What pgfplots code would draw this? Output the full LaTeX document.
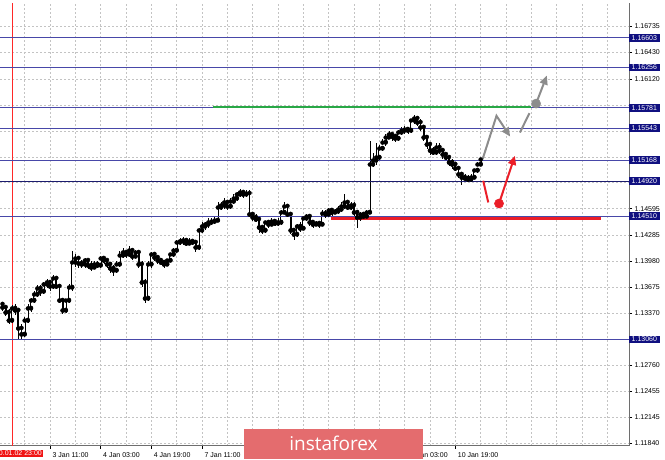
\documentclass[border=0pt]{standalone}
\usepackage{fontspec}
\setmainfont{Liberation Sans}
\newfontfamily\logofont{Open Sans}
\usepackage{pgfplots}
\pgfplotsset{compat=1.18}
\usepackage{pgfplotstable}
\usetikzlibrary{arrows.meta}

\definecolor{lvl}{RGB}{72,72,168}
\definecolor{lvldark}{RGB}{28,28,110}
\definecolor{lblbg}{RGB}{16,16,128}
\definecolor{gridgray}{RGB}{195,195,195}
\definecolor{axisgray}{RGB}{110,110,110}
\definecolor{lvlgreen}{RGB}{40,168,70}
\definecolor{lvlred}{RGB}{235,30,40}
\definecolor{arrgray}{RGB}{140,140,140}
\definecolor{logored}{RGB}{228,108,110}

% hourly candles, x = hours after 2 Jan 23:00
\pgfplotstableread{
x o h l c
-3 1.13470 1.13504 1.13399 1.13434
-2 1.13434 1.13458 1.13340 1.13375
-1 1.13375 1.13411 1.13235 1.13281
0 1.13281 1.13458 1.13258 1.13423
1 1.13423 1.13470 1.13352 1.13399
2 1.13399 1.13434 1.13059 1.13188
3 1.13188 1.13235 1.13059 1.13118
4 1.13118 1.13328 1.13082 1.13281
5 1.13281 1.13470 1.13258 1.13423
6 1.13423 1.13551 1.13387 1.13516
7 1.13516 1.13634 1.13493 1.13587
8 1.13587 1.13693 1.13563 1.13658
9 1.13658 1.13693 1.13575 1.13622
10 1.13622 1.13739 1.13598 1.13705
11 1.13705 1.13775 1.13669 1.13728
12 1.13728 1.13751 1.13634 1.13681
13 1.13681 1.13822 1.13646 1.13775
14 1.13775 1.13798 1.13646 1.13681
15 1.13681 1.13705 1.13493 1.13516
16 1.13516 1.13551 1.13363 1.13399
17 1.13399 1.13540 1.13375 1.13516
18 1.13516 1.13705 1.13493 1.13669
19 1.13669 1.14103 1.13634 1.13963
20 1.13963 1.14057 1.13916 1.14010
21 1.14010 1.14045 1.13904 1.13951
22 1.13951 1.13998 1.13893 1.13940
23 1.13940 1.14021 1.13904 1.13986
24 1.13986 1.14010 1.13881 1.13928
25 1.13928 1.13975 1.13869 1.13904
26 1.13904 1.13975 1.13881 1.13940
27 1.13940 1.13986 1.13893 1.13928
28 1.13928 1.14045 1.13904 1.14010
29 1.14010 1.14033 1.13940 1.13986
30 1.13986 1.14010 1.13893 1.13940
31 1.13940 1.13963 1.13845 1.13893
32 1.13893 1.13928 1.13810 1.13869
33 1.13869 1.13975 1.13845 1.13940
34 1.13940 1.14103 1.13916 1.14045
35 1.14045 1.14139 1.14010 1.14080
36 1.14080 1.14115 1.14010 1.14057
37 1.14057 1.14151 1.14033 1.14103
38 1.14103 1.14127 1.13998 1.14033
39 1.14033 1.14115 1.14021 1.14080
40 1.14080 1.14103 1.13893 1.13940
41 1.13940 1.13975 1.13681 1.13728
42 1.13728 1.13775 1.13493 1.13540
43 1.13540 1.13986 1.13516 1.13940
44 1.13940 1.14092 1.13904 1.14057
45 1.14057 1.14080 1.13986 1.14021
46 1.14021 1.14045 1.13940 1.13986
47 1.13986 1.14021 1.13928 1.13963
48 1.13963 1.13998 1.13904 1.13940
49 1.13940 1.14010 1.13916 1.13986
50 1.13986 1.14080 1.13963 1.14057
51 1.14057 1.14139 1.14033 1.14103
52 1.14103 1.14233 1.14080 1.14198
53 1.14198 1.14245 1.14163 1.14210
54 1.14210 1.14257 1.14174 1.14221
55 1.14221 1.14245 1.14151 1.14186
56 1.14186 1.14245 1.14163 1.14210
57 1.14210 1.14233 1.14163 1.14198
58 1.14198 1.14233 1.14092 1.14139
59 1.14139 1.14374 1.14115 1.14339
60 1.14339 1.14433 1.14315 1.14386
61 1.14386 1.14444 1.14350 1.14409
62 1.14409 1.14480 1.14374 1.14433
63 1.14433 1.14491 1.14409 1.14444
64 1.14444 1.14503 1.14421 1.14456
65 1.14456 1.14668 1.14433 1.14609
66 1.14609 1.14679 1.14574 1.14632
67 1.14632 1.14715 1.14597 1.14668
68 1.14668 1.14691 1.14585 1.14621
69 1.14621 1.14715 1.14597 1.14679
70 1.14679 1.14762 1.14656 1.14715
71 1.14715 1.14797 1.14691 1.14762
72 1.14762 1.14832 1.14738 1.14785
73 1.14785 1.14809 1.14726 1.14762
74 1.14762 1.14809 1.14738 1.14773
75 1.14773 1.14820 1.14503 1.14527
76 1.14527 1.14562 1.14456 1.14491
77 1.14491 1.14527 1.14433 1.14468
78 1.14468 1.14503 1.14315 1.14374
79 1.14374 1.14409 1.14292 1.14339
80 1.14339 1.14456 1.14315 1.14433
81 1.14433 1.14468 1.14374 1.14409
82 1.14409 1.14480 1.14386 1.14444
83 1.14444 1.14468 1.14386 1.14421
84 1.14421 1.14480 1.14397 1.14433
85 1.14433 1.14585 1.14409 1.14550
86 1.14550 1.14668 1.14527 1.14621
87 1.14621 1.14644 1.14503 1.14527
88 1.14527 1.14550 1.14292 1.14339
89 1.14339 1.14374 1.14233 1.14292
90 1.14292 1.14421 1.14268 1.14386
91 1.14386 1.14433 1.14327 1.14362
92 1.14362 1.14515 1.14339 1.14480
93 1.14480 1.14538 1.14456 1.14503
94 1.14503 1.14527 1.14397 1.14433
95 1.14433 1.14468 1.14374 1.14409
96 1.14409 1.14456 1.14386 1.14421
97 1.14421 1.14456 1.14374 1.14409
98 1.14409 1.14574 1.14386 1.14538
99 1.14538 1.14574 1.14491 1.14527
100 1.14527 1.14609 1.14503 1.14574
101 1.14574 1.14609 1.14515 1.14550
102 1.14550 1.14597 1.14527 1.14562
103 1.14562 1.14632 1.14538 1.14585
104 1.14585 1.14668 1.14562 1.14621
105 1.14621 1.14762 1.14597 1.14668
106 1.14668 1.14703 1.14574 1.14609
107 1.14609 1.14679 1.14585 1.14632
108 1.14632 1.14668 1.14515 1.14550
109 1.14550 1.14574 1.14374 1.14491
110 1.14491 1.14562 1.14456 1.14527
111 1.14527 1.14562 1.14468 1.14503
112 1.14503 1.14585 1.14480 1.14550
113 1.14550 1.15396 1.14527 1.15114
114 1.15114 1.15255 1.15079 1.15161
115 1.15161 1.15372 1.15114 1.15196
116 1.15196 1.15349 1.15161 1.15302
117 1.15302 1.15419 1.15278 1.15372
118 1.15372 1.15478 1.15337 1.15431
119 1.15431 1.15513 1.15408 1.15466
120 1.15466 1.15490 1.15396 1.15443
121 1.15443 1.15478 1.15384 1.15419
122 1.15419 1.15525 1.15396 1.15490
123 1.15490 1.15549 1.15455 1.15513
124 1.15513 1.15572 1.15478 1.15525
125 1.15525 1.15560 1.15478 1.15513
126 1.15513 1.15654 1.15490 1.15631
127 1.15631 1.15690 1.15595 1.15654
128 1.15654 1.15678 1.15572 1.15607
129 1.15607 1.15643 1.15513 1.15549
130 1.15549 1.15584 1.15396 1.15431
131 1.15431 1.15466 1.15302 1.15349
132 1.15349 1.15384 1.15231 1.15278
133 1.15278 1.15314 1.15220 1.15255
134 1.15255 1.15361 1.15231 1.15314
135 1.15314 1.15372 1.15243 1.15278
136 1.15278 1.15302 1.15184 1.15231
137 1.15231 1.15255 1.15161 1.15196
138 1.15196 1.15220 1.15102 1.15138
139 1.15138 1.15173 1.15067 1.15114
140 1.15114 1.15138 1.15032 1.15067
141 1.15067 1.15091 1.14950 1.14997
142 1.14997 1.15020 1.14879 1.14961
143 1.14961 1.14997 1.14915 1.14950
144 1.14950 1.14985 1.14915 1.14938
145 1.14938 1.14997 1.14926 1.14961
146 1.14961 1.15067 1.14938 1.15044
147 1.15044 1.15138 1.15020 1.15114
148 1.15114 1.15196 1.15091 1.15173
}\candles

\begin{document}
\begin{tikzpicture}[x=1pt,y=1pt]
\useasboundingbox (0,0) rectangle (665,460);
\begin{axis}[
  at={(0,17)}, anchor=south west,
  width=629pt, height=443pt, scale only axis,
  xmin=-3.79, xmax=194.84, ymin=1.11813, ymax=1.17017,
  clip=false,
  axis x line*=bottom, axis y line*=right,
  axis line style={draw=axisgray, line width=0.8pt},
  tick align=outside, major tick length=3pt, minor tick length=0pt,
  major tick style={black, line width=0.5pt},
  /pgf/number format/assume math mode=true,
  tick label style={font=\fontsize{7}{8}\selectfont, text=black},
  xtick={12,28,...,140},
  xticklabels={3 Jan 11:00,4 Jan 03:00,4 Jan 19:00,7 Jan 11:00,{},{},{},10 Jan 03:00,10 Jan 19:00},
  xticklabel style={anchor=north west, xshift=-1pt, yshift=-1pt},
  minor xtick={4,12,...,188},
  xminorgrids=true,
  ytick={1.16735,1.16430,1.16120,1.15815,1.15510,1.15205,1.14900,1.14595,1.14285,1.13980,1.13675,1.13370,1.13065,1.12760,1.12455,1.12145,1.11840},
  yticklabels={1.16735,1.16430,1.16120,{},{},{},{},1.14595,1.14285,1.13980,1.13675,1.13370,{},1.12760,1.12455,1.12145,1.11840},
  yticklabel style={anchor=west, xshift=-1pt},
  ymajorgrids=true,
  grid style={draw=gridgray, dash pattern=on 2pt off 2pt, line width=0.5pt},
  minor grid style={draw=gridgray, dash pattern=on 2pt off 2pt, line width=0.5pt},
  extra y ticks={1.16603,1.16256,1.15781,1.15543,1.15168,1.14920,1.14510,1.13060},
  extra y tick labels={1.16603,1.16256,1.15781,1.15543,1.15168,1.14920,1.14510,1.13060},
  extra y tick style={grid=none, major tick length=0pt,
    yticklabel style={fill=lblbg, text=white, inner xsep=3pt, inner ysep=1.3pt, xshift=0.5pt}},
]
% red period line
\addplot[draw={rgb,255:red,255;green,40;blue,40}, line width=0.8pt] coordinates {(0,1.11813) (0,1.17017)};
\node[fill={rgb,255:red,240;green,20;blue,20}, text=white, anchor=north east, inner sep=1pt,
  font=\fontsize{7}{8}\selectfont] at ([xshift=31pt, yshift=-4pt]axis cs:0,1.11813) {2020.01.02 23:00};

% candle wicks
\addplot[only marks, mark=none, error bars/.cd, y dir=both, y explicit, error mark=none,
  error mark options={draw=none}, error bar style={draw=black, line width=0.6pt}]
  table[x=x, y=c, y error plus expr=\thisrow{h}-\thisrow{c}, y error minus expr=\thisrow{c}-\thisrow{l}] {\candles};
% candle bodies
\addplot[only marks, mark=none, error bars/.cd, y dir=plus, y explicit, error mark=none,
  error mark options={draw=none}, error bar style={draw=black, line width=1.9pt}]
  table[x=x, y expr={min(\thisrow{o},\thisrow{c})}, y error plus expr={abs(\thisrow{c}-\thisrow{o})}] {\candles};
% hollow inside of rising candles
\addplot[only marks, mark=none, error bars/.cd, y dir=plus, y explicit, error mark=none,
  error mark options={draw=none}, error bar style={draw=white, line width=0.7pt}]
  table[x=x, y expr={\thisrow{o}+0.00007}, y error plus expr={max(\thisrow{c}-\thisrow{o}-0.00014,0)}] {\candles};

% levels
\addplot[lvl, line width=0.8pt] coordinates {(-3.79,1.16603) (194.84,1.16603)};
\addplot[lvl, line width=0.8pt] coordinates {(-3.79,1.16256) (194.84,1.16256)};
\addplot[lvl, line width=0.8pt] coordinates {(-3.79,1.15781) (194.84,1.15781)};
\addplot[lvl, line width=0.8pt] coordinates {(-3.79,1.15543) (194.84,1.15543)};
\addplot[lvl, line width=0.8pt] coordinates {(-3.79,1.15168) (194.84,1.15168)};
\addplot[lvldark, line width=0.8pt] coordinates {(-3.79,1.14920) (194.84,1.14920)};
\addplot[lvl, line width=0.8pt] coordinates {(-3.79,1.14510) (194.84,1.14510)};
\addplot[lvl, line width=0.8pt] coordinates {(-3.79,1.13060) (194.84,1.13060)};

% support / resistance segments
\addplot[lvlgreen, line width=2.4pt] coordinates {(63.5,1.15790) (163.9,1.15790)};
\addplot[lvlred, line width=2.4pt] coordinates {(100.7,1.14480) (186.0,1.14480)};

% scenario arrows
\addplot[arrgray, line width=2pt, -{Triangle[length=9pt,width=8pt]}] coordinates {(148.6,1.15176) (153.0,1.15686) (157.3,1.15443)};
\addplot[arrgray, line width=2pt] coordinates {(160.4,1.15490) (163.4,1.15717)};
\addplot[arrgray, line width=2pt, -{Triangle[length=9pt,width=8pt]}] coordinates {(165.5,1.15830) (168.9,1.16159)};
\addplot[arrgray, only marks, mark=*, mark size=4.6pt] coordinates {(165.5,1.15830)};

\addplot[lvlred, line width=2pt] coordinates {(148.8,1.14923) (150.4,1.14668)};
\addplot[lvlred, line width=2pt, -{Triangle[length=9pt,width=8pt]}] coordinates {(153.8,1.14656) (158.8,1.15216)};
\addplot[lvlred, only marks, mark=*, mark size=4.6pt] coordinates {(153.8,1.14656)};
\end{axis}

% watermark
\fill[logored] (244,1) rectangle (423,31);
\node[text=white, font=\logofont\fontsize{19}{20}\selectfont] at (333.5,16.5) {instaforex};
\end{tikzpicture}
\end{document}
